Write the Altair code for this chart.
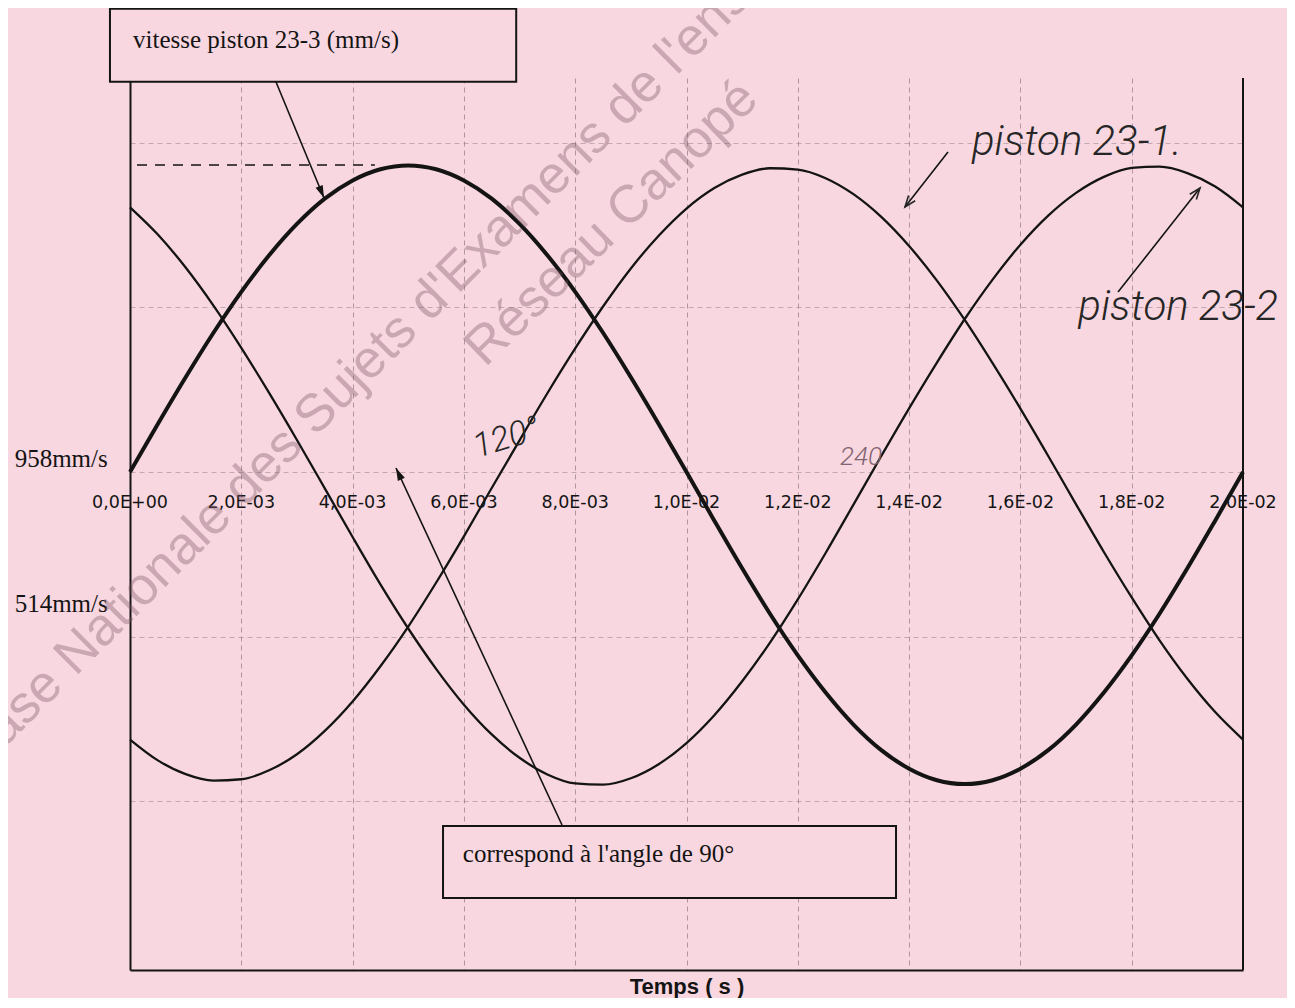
import math
import altair as alt
import pandas as pd

# ---------------- data ----------------
time_s = [0.0000, 0.0005, 0.0010, 0.0015, 0.0020, 0.0025, 0.0030, 0.0035, 0.0040, 0.0045,
          0.0050, 0.0055, 0.0060, 0.0065, 0.0070, 0.0075, 0.0080, 0.0085, 0.0090, 0.0095,
          0.0100, 0.0105, 0.0110, 0.0115, 0.0120, 0.0125, 0.0130, 0.0135, 0.0140, 0.0145,
          0.0150, 0.0155, 0.0160, 0.0165, 0.0170, 0.0175, 0.0180, 0.0185, 0.0190, 0.0195,
          0.0200]

# piston 23-3 (thick curve), mm/s
v_23_3 = [0, 150, 296, 435, 563, 677, 775, 854, 911, 946,
          958, 946, 911, 854, 775, 677, 563, 435, 296, 150,
          0, -152, -301, -443, -573, -689, -789, -869, -927, -963,
          -975, -963, -927, -869, -789, -689, -573, -443, -301, -152,
          0]
# piston 23-2 (thin curve starting high)
v_23_2 = [827, 742, 639, 520, 388, 247, 100, -51, -203, -351,
          -489, -615, -727, -820, -893, -945, -973, -977, -957, -913,
          -847, -760, -654, -533, -398, -253, -102, 50, 199, 342,
          478, 601, 710, 801, 872, 922, 950, 954, 934, 892,
          827]
# piston 23-1 (thin curve starting low)
v_23_1 = [-836, -901, -944, -964, -960, -932, -882, -809, -717, -607,
          -483, -346, -201, -50, 99, 246, 386, 517, 636, 738,
          823, 887, 929, 949, 945, 918, 868, 797, 706, 598,
          475, 340, 198, 50, -101, -250, -392, -526, -646, -750,
          -836]

tick_t = [0.000, 0.002, 0.004, 0.006, 0.008, 0.010, 0.012, 0.014, 0.016, 0.018, 0.020]
tick_labels = ["0,0E+00", "2,0E-03", "4,0E-03", "6,0E-03", "8,0E-03", "1,0E-02",
               "1,2E-02", "1,4E-02", "1,6E-02", "1,8E-02", "2,0E-02"]
grid_v = [-1028, -514, 0, 514, 1028]

Y_MIN, Y_MAX = -1556, 1231
T_MIN, T_MAX = 0.0, 0.02

# left-hand value labels
side_labels = ["958mm/s", "514mm/s"]
side_t = [-0.0004, -0.0004]
side_v = [15, -437]

# framed text boxes
box_labels = ["vitesse piston 23-3 (mm/s)", "correspond à l'angle de 90°"]
box_t1 = [-0.00036, 0.005625]
box_t2 = [0.00694, 0.013765]
box_v1 = [1447, -1106]
box_v2 = [1219, -1331]
box_text_t = [0.000054, 0.00598]
box_text_v = [1325, -1219]

# arrows (printed and handwritten)
arrow_t1 = [0.002624, 0.007763, 0.014699, 0.017754]
arrow_v1 = [1218.6, -1103.0, 1000.0, 562.0]
arrow_t2 = [0.003486, 0.004780, 0.013926, 0.019227]
arrow_v2 = [856.0, 12.5, 828.0, 887.0]
arrow_kind = ["printed", "printed", "hand", "hand"]

# dashed marker of the maximum
dash_t1, dash_t2, dash_v = [0.000126], [0.0044], [959]

# handwritten notes
hand_labels = ["piston 23-1.", "piston 23-2", "120°", "240"]
hand_t = [0.01513, 0.01704, 0.00624, 0.01276]
hand_v = [990, 475, 44, 22]
hand_size = [42, 42, 34, 26]
hand_angle = [0, 0, 343, 0]
hand_color = ["#262626", "#262626", "#262626", "#806470"]

# watermark
wm_labels = ["Base Nationale des Sujets d'Examens de l'enseignement professionnel",
             "Réseau Canopé"]
wm_t = [-0.00027 * 10, 0.006379]
wm_v = [-940, 325]
wm_angle = [315, 316]

# ---------------- styling ----------------
BG = "#f8d7e0"
INK = "#141414"
W, H = 1113, 892
PX_T = W / (T_MAX - T_MIN)
PX_V = H / (Y_MAX - Y_MIN)

XS = alt.Scale(domain=[T_MIN, T_MAX], nice=False, zero=False)
YS = alt.Scale(domain=[Y_MIN, Y_MAX], nice=False, zero=False)
XAXIS = alt.Axis(values=tick_t, grid=True, gridColor="#7f6a72", gridDash=[5, 4],
                 gridOpacity=0.6, gridWidth=1, domain=True, domainColor=INK,
                 domainWidth=2, ticks=False, labels=False, title="Temps ( s )",
                 titleFont="Liberation Sans", titleFontSize=22, titleFontWeight="bold",
                 titleColor=INK, titleBaseline="top", titleY=6)
YAXIS = alt.Axis(values=grid_v, grid=True, gridColor="#8f7a82", gridDash=[5, 4],
                 gridOpacity=0.5, gridWidth=1, domain=True, domainColor=INK,
                 domainWidth=2, ticks=False, labels=False, title=None)


def X(field):
    return alt.X(f"{field}:Q", scale=XS, axis=XAXIS)


def Y(field):
    return alt.Y(f"{field}:Q", scale=YS, axis=YAXIS)


curves = pd.DataFrame({
    "t": time_s * 3,
    "v": v_23_3 + v_23_2 + v_23_1,
    "serie": ["23-3"] * len(time_s) + ["23-2"] * len(time_s) + ["23-1"] * len(time_s),
})

thick = alt.Chart(curves[curves.serie == "23-3"]).mark_line(
    color=INK, strokeWidth=4, interpolate="monotone"
).encode(x=X("t"), y=Y("v"))

thin = alt.Chart(curves[curves.serie != "23-3"]).mark_line(
    color=INK, strokeWidth=2.3, interpolate="monotone"
).encode(x=X("t"), y=Y("v"), detail="serie:N")

right_border = alt.Chart(pd.DataFrame({"t": [T_MAX], "v": [Y_MAX], "v2": [Y_MIN]})).mark_rule(
    color=INK, strokeWidth=2
).encode(x=X("t"), y=Y("v"), y2="v2:Q")

ticks_df = pd.DataFrame({"t": tick_t, "v": [0] * len(tick_t), "lab": tick_labels})
tick_text = alt.Chart(ticks_df).mark_text(
    font="DejaVu Sans", fontSize=17.5, baseline="middle", align="center", dy=31, color=INK
).encode(x=X("t"), y=Y("v"), text="lab:N")

side_df = pd.DataFrame({"t": side_t, "v": side_v, "lab": side_labels})
side_text = alt.Chart(side_df).mark_text(
    font="Liberation Serif", fontSize=25, align="right", baseline="alphabetic", color=INK
).encode(x=X("t"), y=Y("v"), text="lab:N")

dash_df = pd.DataFrame({"t": dash_t1, "t2": dash_t2, "v": dash_v})
dash_rule = alt.Chart(dash_df).mark_rule(
    color=INK, strokeWidth=1.6, strokeDash=[10, 8]
).encode(x=X("t"), x2="t2:Q", y=Y("v"))

box_df = pd.DataFrame({"t": box_t1, "t2": box_t2, "v": box_v1, "v2": box_v2})
boxes = alt.Chart(box_df).mark_rect(
    fill=BG, stroke=INK, strokeWidth=2
).encode(x=X("t"), x2="t2:Q", y=Y("v"), y2="v2:Q")

box_text_df = pd.DataFrame({"t": box_text_t, "v": box_text_v, "lab": box_labels})
box_text = alt.Chart(box_text_df).mark_text(
    font="Liberation Serif", fontSize=25, align="left", baseline="alphabetic", color=INK
).encode(x=X("t"), y=Y("v"), text="lab:N")

angles = []
for a1, b1, a2, b2 in zip(arrow_t1, arrow_v1, arrow_t2, arrow_v2):
    dxp = (a2 - a1) * PX_T
    dyp = -(b2 - b1) * PX_V
    angles.append(math.degrees(math.atan2(dxp, -dyp)) % 360)

arrow_df = pd.DataFrame({"t": arrow_t1, "v": arrow_v1, "t2": arrow_t2, "v2": arrow_v2,
                         "kind": arrow_kind, "ang": angles})
arrow_lines = alt.Chart(arrow_df).mark_rule(color=INK, strokeWidth=1.6).encode(
    x=X("t"), x2="t2:Q", y=Y("v"), y2="v2:Q")
heads_printed = alt.Chart(arrow_df[arrow_df.kind == "printed"]).mark_point(
    shape="M0,0L-0.55,1.8L0.55,1.8Z", filled=True, size=196, color=INK, opacity=1
).encode(x=X("t2"), y=Y("v2"), angle=alt.Angle("ang:Q", scale=None))
heads_hand = alt.Chart(arrow_df[arrow_df.kind == "hand"]).mark_point(
    shape="M-0.6,1.6L0,0L0.6,1.6", filled=False, size=196, color="#262626",
    strokeWidth=1.6, opacity=1
).encode(x=X("t2"), y=Y("v2"), angle=alt.Angle("ang:Q", scale=None))

hand_df = pd.DataFrame({"t": hand_t, "v": hand_v, "lab": hand_labels, "fs": hand_size,
                        "ang": hand_angle, "col": hand_color})
hand_text = alt.Chart(hand_df).mark_text(
    font="Roboto", fontStyle="italic", fontWeight=300, align="left", baseline="alphabetic"
).encode(x=X("t"), y=Y("v"), text="lab:N", size=alt.Size("fs:Q", scale=None),
         angle=alt.Angle("ang:Q", scale=None), color=alt.Color("col:N", scale=None))

wm_df = pd.DataFrame({"t": wm_t, "v": wm_v, "lab": wm_labels, "ang": wm_angle})
watermark = alt.Chart(wm_df).mark_text(
    font="Liberation Sans", fontSize=53, align="left", baseline="alphabetic",
    color="#7a5563", opacity=0.36
).encode(x=X("t"), y=Y("v"), text="lab:N", angle=alt.Angle("ang:Q", scale=None))

chart = alt.layer(
    thick, thin, right_border, tick_text, side_text, dash_rule, boxes, box_text,
    arrow_lines, heads_printed, heads_hand, hand_text, watermark
).properties(
    width=W, height=H, background=BG,
    autosize=alt.AutoSizeParams(type="none"),
    padding={"left": 122, "top": 70, "right": 44, "bottom": 28},
).configure_view(stroke=None)

chart.save("out.html", embed_options={"renderer": "svg", "actions": False})
